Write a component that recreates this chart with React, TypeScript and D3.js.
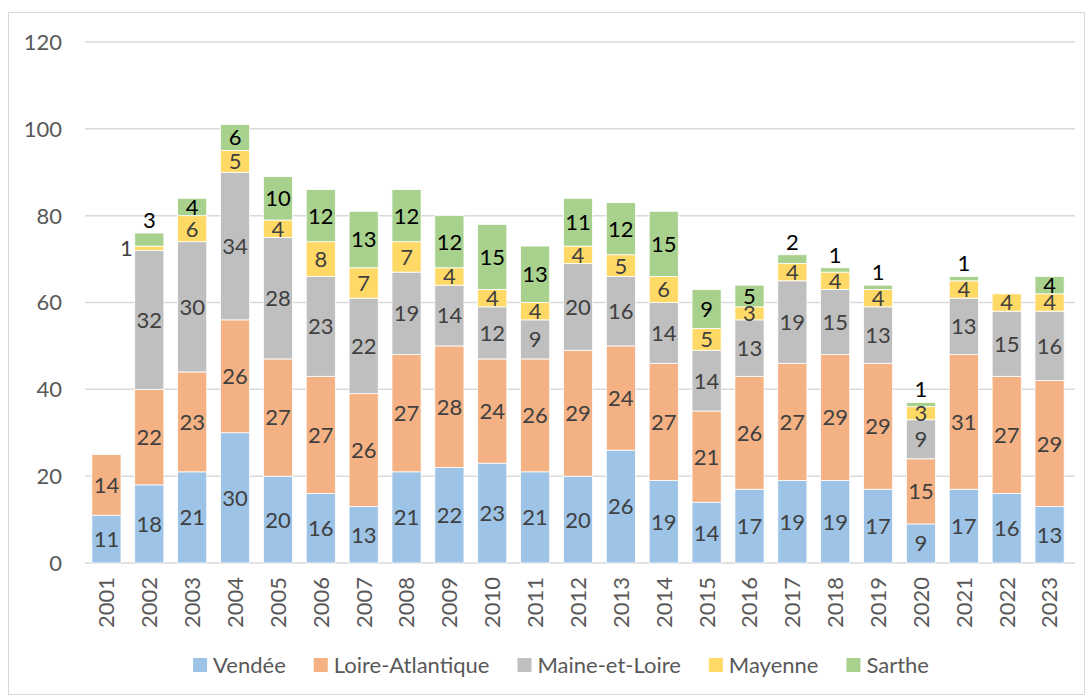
import { useMemo } from "react";
import * as d3 from "d3";

const WIDTH = 1091;
const HEIGHT = 697;
const MARGIN = { top: 42, right: 20, bottom: 134, left: 85 };
const FONT = "Lato, 'Open Sans', sans-serif";
const FS = 22;

const years = [
  "2001", "2002", "2003", "2004", "2005", "2006", "2007", "2008", "2009", "2010", "2011", "2012",
  "2013", "2014", "2015", "2016", "2017", "2018", "2019", "2020", "2021", "2022", "2023",
];
const seriesNames = ["Vendée", "Loire-Atlantique", "Maine-et-Loire", "Mayenne", "Sarthe"];
const colors = ["#9DC3E6", "#F4B183", "#BFBFBF", "#FFD966", "#A9D18E"];

const vendee = [11, 18, 21, 30, 20, 16, 13, 21, 22, 23, 21, 20, 26, 19, 14, 17, 19, 19, 17, 9, 17, 16, 13];
const loireAtlantique = [14, 22, 23, 26, 27, 27, 26, 27, 28, 24, 26, 29, 24, 27, 21, 26, 27, 29, 29, 15, 31, 27, 29];
const maineEtLoire = [0, 32, 30, 34, 28, 23, 22, 19, 14, 12, 9, 20, 16, 14, 14, 13, 19, 15, 13, 9, 13, 15, 16];
const mayenne = [0, 1, 6, 5, 4, 8, 7, 7, 4, 4, 4, 4, 5, 6, 5, 3, 4, 4, 4, 3, 4, 4, 4];
const sarthe = [0, 3, 4, 6, 10, 12, 13, 12, 12, 15, 13, 11, 12, 15, 9, 5, 2, 1, 1, 1, 1, 0, 4];

const yTicks = [0, 20, 40, 60, 80, 100, 120];

const measure = (text: string, font: string) => {
  const ctx = document.createElement("canvas").getContext("2d");
  if (!ctx) return text.length * 11;
  ctx.font = font;
  return ctx.measureText(text).width;
};

const App = () => {
  const boundsHeight = HEIGHT - MARGIN.top - MARGIN.bottom;

  const table = useMemo(
    () =>
      years.map((y, i) => ({
        year: y,
        "Vendée": vendee[i],
        "Loire-Atlantique": loireAtlantique[i],
        "Maine-et-Loire": maineEtLoire[i],
        "Mayenne": mayenne[i],
        "Sarthe": sarthe[i],
      })),
    []
  );

  const stacked = useMemo(() => d3.stack<any>().keys(seriesNames)(table), [table]);

  const xScale = d3.scaleBand().domain(years).range([0, 986]).paddingInner(0.32).paddingOuter(0.16);
  const yScale = d3.scaleLinear().domain([0, 120]).range([boundsHeight, 0]);

  // legend layout
  const legendFont = `${FS}px ${FONT}`;
  const legendItems = seriesNames.map((n) => ({ name: n, w: 14 + 6 + measure(n, legendFont) }));
  const legendGap = 28;
  const legendTotal = d3.sum(legendItems, (d) => d.w) + legendGap * (legendItems.length - 1);
  let lx = 561 - legendTotal / 2;
  const legendPos = legendItems.map((d) => {
    const x = lx;
    lx += d.w + legendGap;
    return x;
  });

  const labels: JSX.Element[] = [];
  stacked.forEach((layer, si) => {
    layer.forEach((seg, i) => {
      const v = seg[1] - seg[0];
      if (v <= 0) return;
      const cx = (xScale(years[i]) ?? 0) + xScale.bandwidth() / 2;
      const isSarthe = si === 4;
      let x = cx;
      let y = (yScale(seg[0]) + yScale(seg[1])) / 2;
      let anchor = "middle";
      // small values sit above the bar, as in the original
      if (isSarthe && (v <= 2 || years[i] === "2002")) {
        y = yScale(seg[1]) - 13;
      }
      if (si === 3 && years[i] === "2002") {
        x = (xScale(years[i]) ?? 0) - 2;
        anchor = "end";
      }
      labels.push(
        <text
          key={`l-${si}-${i}`}
          x={x}
          y={y}
          dy="0.36em"
          textAnchor={anchor}
          fontSize={FS}
          fontFamily={FONT}
          fill={isSarthe ? "#000000" : "#404040"}
        >
          {v}
        </text>
      );
    });
  });

  return (
    <svg width={WIDTH} height={HEIGHT} style={{ display: "block", position: "absolute", left: 0, top: 0, background: "white" }}>
      <rect x={8.5} y={12.5} width={1076} height={682} fill="white" stroke="#d9d9d9" strokeWidth={1} />
      <g transform={`translate(${MARGIN.left},${MARGIN.top})`}>
        {yTicks.map((t) => (
          <g key={t}>
            <line x1={0} x2={990} y1={yScale(t)} y2={yScale(t)} stroke="#d9d9d9" strokeWidth={1.5} />
            <text x={-23} y={yScale(t)} dy="0.36em" textAnchor="end" fontSize={FS} fontFamily={FONT} fill="#595959">
              {t}
            </text>
          </g>
        ))}
        {stacked.map((layer, si) => (
          <g key={seriesNames[si]} fill={colors[si]}>
            {layer.map((seg, i) => (
              <rect
                key={i}
                x={xScale(years[i])}
                y={yScale(seg[1])}
                width={xScale.bandwidth()}
                height={Math.max(0, yScale(seg[0]) - yScale(seg[1]))}
                stroke="white"
                strokeWidth={seg[1] - seg[0] > 0 ? 0.8 : 0}
              />
            ))}
          </g>
        ))}
        {labels}
        {years.map((y) => {
          const cx = (xScale(y) ?? 0) + xScale.bandwidth() / 2;
          return (
            <text
              key={y}
              transform={`translate(${cx},${boundsHeight + 14}) rotate(-90)`}
              dy="0.36em"
              textAnchor="end"
              fontSize={FS}
              fontFamily={FONT}
              fill="#595959"
            >
              {y}
            </text>
          );
        })}
      </g>
      <g transform="translate(0,665)">
        {legendItems.map((d, i) => (
          <g key={d.name} transform={`translate(${legendPos[i]},0)`}>
            <rect x={0} y={-7} width={14} height={14} fill={colors[i]} />
            <text x={20} y={0} dy="0.36em" fontSize={FS} fontFamily={FONT} fill="#595959">
              {d.name}
            </text>
          </g>
        ))}
      </g>
    </svg>
  );
};

export default App;
